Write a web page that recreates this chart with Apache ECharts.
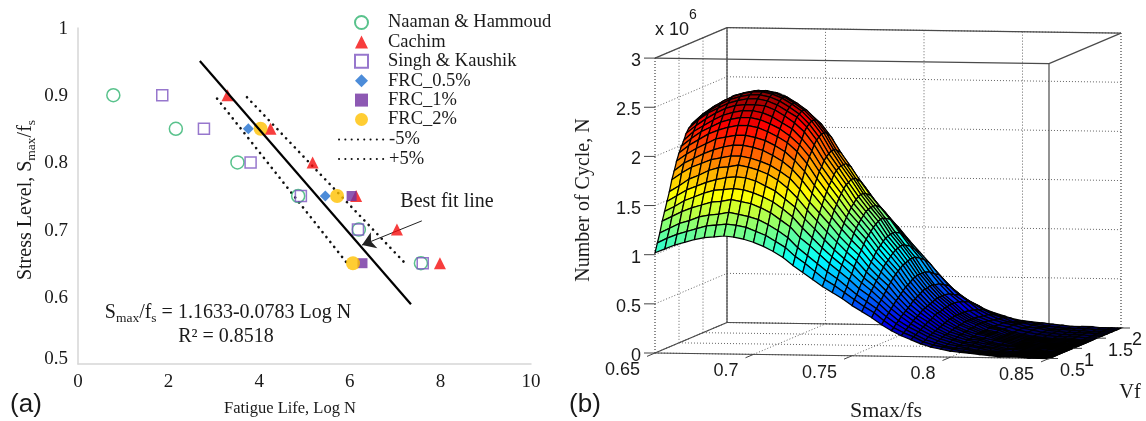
<!DOCTYPE html>
<html>
<head>
<meta charset="utf-8">
<style>
html, body { margin: 0; padding: 0; background: #fff; }
#main { width: 1146px; height: 421px; }
</style>
<script src="https://cdn.jsdelivr.net/npm/echarts@6/dist/echarts.min.js"></script>
</head>
<body>
<div id="main"></div>
<script>
// panel (a) points: [Log N, Smax/fs]
var naaman = [[0.78, 0.9], [2.16, 0.85], [3.52, 0.8], [4.86, 0.75], [6.2, 0.7], [7.57, 0.65]];
var cachim = [[3.3, 0.9], [4.25, 0.85], [5.18, 0.8], [6.14, 0.75], [7.04, 0.7], [7.99, 0.65]];
var singh = [[1.86, 0.9], [2.78, 0.85], [3.81, 0.8], [4.92, 0.75], [6.18, 0.7], [7.61, 0.65]];
var frc05 = [[3.76, 0.85], [5.46, 0.75]];
var frc1 = [[6.04, 0.75], [6.28, 0.65]];
var frc2 = [[4.03, 0.85], [5.72, 0.75], [6.07, 0.65]];
var bestFit = [[2.69, 0.951], [7.35, 0.589]];
var minus5 = [[3.07, 0.895], [5.94, 0.65]];
var plus5 = [[3.73, 0.897], [7.22, 0.65]];
var arrowLine = [[7.59, 0.713], [6.27, 0.677]];
var markerNames = ['Naaman & Hammoud', 'Cachim', 'Singh & Kaushik', 'FRC_0.5%', 'FRC_1%', 'FRC_2%'];
var bandNames = ['-5%', '+5%'];

// panel (b) axes
var smaxTicks = [0.65, 0.7, 0.75, 0.8, 0.85];
var vfTicks = [0.5, 1, 1.5, 2];
var nTicks = [0, 0.5, 1, 1.5, 2, 2.5, 3];

// panel (b) surface: one row per Vf, one column per Smax, N in millions
var smaxGrid = [0.65, 0.655, 0.66, 0.665, 0.67, 0.675, 0.68, 0.685, 0.69, 0.695, 0.7, 0.705, 0.71, 0.715, 0.72, 0.725, 0.73, 0.735, 0.74, 0.745, 0.75, 0.755, 0.76, 0.765, 0.77, 0.775, 0.78, 0.785, 0.79, 0.795, 0.8, 0.805, 0.81, 0.815, 0.82, 0.825, 0.83, 0.835, 0.84, 0.845, 0.85];
var vfGrid = [0.5, 0.55, 0.6, 0.65, 0.7, 0.75, 0.8, 0.85, 0.9, 0.95, 1, 1.05, 1.1, 1.15, 1.2, 1.25, 1.3, 1.35, 1.4, 1.5, 1.6, 1.7, 1.8, 1.9, 2];
var surfaceN = [
	[1.02,1.06,1.10,1.13,1.16,1.18,1.19,1.20,1.19,1.17,1.14,1.10,1.05,.99,.91,.84,.77,.70,.64,.58,.51,.45,.39,.32,.26,.21,.17,.13,.10,.08,.06,.05,.04,.03,.02,.01,.01,.01,0,0,0],
	[1.11,1.16,1.20,1.23,1.26,1.29,1.30,1.31,1.30,1.28,1.24,1.20,1.14,1.08,.99,.92,.84,.76,.70,.63,.56,.49,.43,.35,.28,.23,.19,.14,.11,.09,.07,.05,.04,.03,.02,.01,.01,.01,0,0,0],
	[1.20,1.25,1.30,1.33,1.37,1.39,1.40,1.42,1.40,1.38,1.35,1.30,1.24,1.17,1.07,.99,.91,.83,.76,.68,.60,.53,.46,.38,.31,.25,.20,.15,.12,.09,.07,.06,.04,.03,.02,.01,.01,.01,0,0,0],
	[1.31,1.36,1.41,1.45,1.48,1.51,1.52,1.54,1.52,1.50,1.46,1.41,1.34,1.27,1.16,1.08,.99,.90,.82,.74,.65,.58,.50,.41,.33,.27,.22,.17,.13,.10,.08,.06,.04,.03,.02,.01,.01,.01,0,0,0],
	[1.40,1.45,1.51,1.55,1.59,1.62,1.63,1.64,1.63,1.60,1.56,1.51,1.44,1.36,1.25,1.15,1.05,.96,.88,.79,.70,.62,.53,.44,.36,.29,.23,.18,.14,.11,.08,.07,.05,.03,.02,.01,.01,.01,0,0,0],
	[1.49,1.55,1.61,1.65,1.69,1.72,1.74,1.75,1.74,1.71,1.66,1.61,1.53,1.45,1.33,1.23,1.12,1.02,.93,.85,.74,.66,.57,.47,.38,.31,.25,.19,.15,.12,.09,.07,.05,.04,.02,.01,.01,.01,0,0,0],
	[1.58,1.64,1.71,1.75,1.80,1.83,1.84,1.86,1.84,1.81,1.77,1.71,1.63,1.53,1.41,1.30,1.19,1.09,.99,.90,.79,.70,.60,.50,.40,.33,.26,.20,.16,.12,.09,.08,.05,.04,.02,.02,.01,.01,0,0,0],
	[1.69,1.76,1.82,1.86,1.90,1.92,1.94,1.94,1.92,1.89,1.85,1.79,1.72,1.61,1.48,1.37,1.26,1.14,1.04,.95,.83,.73,.64,.52,.42,.34,.28,.21,.16,.13,.10,.08,.06,.04,.02,.02,.01,.01,0,0,0],
	[1.77,1.85,1.90,1.95,1.99,2.02,2.04,2.04,2.02,1.99,1.94,1.88,1.80,1.69,1.56,1.44,1.32,1.20,1.09,.99,.87,.77,.67,.55,.44,.36,.29,.22,.17,.14,.10,.09,.06,.04,.03,.02,.01,.01,.01,0,0],
	[1.86,1.93,1.99,2.04,2.09,2.11,2.13,2.13,2.11,2.08,2.03,1.97,1.88,1.77,1.63,1.50,1.38,1.25,1.15,1.04,.91,.81,.70,.57,.47,.38,.30,.23,.18,.14,.11,.09,.06,.04,.03,.02,.01,.01,.01,0,0],
	[1.93,2.01,2.07,2.13,2.17,2.20,2.22,2.22,2.20,2.16,2.11,2.05,1.96,1.84,1.69,1.56,1.43,1.30,1.19,1.08,.95,.84,.73,.60,.48,.39,.32,.24,.19,.15,.11,.09,.07,.05,.03,.02,.01,.01,.01,0,0],
	[1.99,2.07,2.14,2.19,2.24,2.27,2.29,2.29,2.27,2.23,2.18,2.11,2.02,1.90,1.75,1.61,1.48,1.34,1.23,1.11,.98,.86,.75,.61,.50,.40,.33,.25,.19,.15,.12,.10,.07,.05,.03,.02,.01,.01,.01,0,0],
	[2.04,2.13,2.19,2.25,2.30,2.33,2.35,2.35,2.33,2.29,2.23,2.17,2.07,1.95,1.79,1.65,1.52,1.38,1.26,1.14,1.00,.89,.77,.63,.51,.41,.33,.26,.20,.16,.12,.10,.07,.05,.03,.02,.01,.01,.01,0,0],
	[2.10,2.18,2.25,2.31,2.36,2.39,2.40,2.40,2.39,2.35,2.29,2.22,2.13,2.00,1.84,1.70,1.56,1.41,1.29,1.17,1.03,.91,.79,.65,.53,.42,.34,.26,.20,.16,.12,.10,.07,.05,.03,.02,.01,.01,.01,0,0],
	[2.14,2.23,2.30,2.35,2.40,2.43,2.45,2.45,2.43,2.39,2.33,2.27,2.17,2.04,1.87,1.73,1.59,1.44,1.32,1.19,1.05,.93,.80,.66,.54,.43,.35,.27,.21,.16,.12,.10,.07,.05,.03,.02,.01,.01,.01,0,0],
	[2.16,2.25,2.32,2.38,2.43,2.46,2.48,2.48,2.46,2.42,2.36,2.29,2.19,2.06,1.89,1.75,1.60,1.46,1.33,1.21,1.06,.94,.81,.67,.54,.44,.35,.27,.21,.17,.12,.10,.07,.05,.03,.02,.01,.01,.01,0,0],
	[2.18,2.27,2.34,2.40,2.45,2.48,2.50,2.50,2.48,2.44,2.38,2.31,2.21,2.08,1.91,1.76,1.62,1.47,1.34,1.22,1.07,.95,.82,.67,.55,.44,.36,.27,.21,.17,.13,.11,.07,.05,.03,.02,.01,.01,.01,0,0],
	[2.18,2.27,2.34,2.40,2.45,2.48,2.50,2.50,2.48,2.44,2.38,2.31,2.21,2.08,1.91,1.76,1.62,1.47,1.34,1.22,1.07,.95,.82,.67,.55,.44,.36,.27,.21,.17,.13,.11,.07,.05,.03,.02,.01,.01,.01,0,0],
	[2.17,2.26,2.33,2.39,2.44,2.47,2.49,2.49,2.47,2.43,2.37,2.30,2.20,2.07,1.90,1.76,1.61,1.46,1.34,1.21,1.07,.94,.82,.67,.54,.44,.36,.27,.21,.17,.13,.10,.07,.05,.03,.02,.01,.01,.01,0,0],
	[2.11,2.20,2.26,2.32,2.37,2.40,2.42,2.42,2.40,2.36,2.30,2.23,2.14,2.01,1.85,1.71,1.56,1.42,1.30,1.18,1.04,.91,.79,.65,.53,.43,.35,.26,.20,.16,.12,.10,.07,.05,.03,.02,.01,.01,.01,0,0],
	[1.99,2.07,2.14,2.19,2.24,2.27,2.29,2.29,2.27,2.23,2.18,2.11,2.02,1.90,1.75,1.61,1.48,1.34,1.23,1.11,.98,.86,.75,.61,.50,.40,.33,.25,.19,.15,.12,.10,.07,.05,.03,.02,.01,.01,.01,0,0],
	[1.84,1.91,1.98,2.03,2.09,2.12,2.14,2.16,2.14,2.11,2.05,1.98,1.89,1.78,1.64,1.51,1.39,1.26,1.15,1.04,.92,.81,.70,.58,.47,.38,.31,.23,.18,.14,.11,.09,.06,.05,.03,.02,.01,.01,.01,0,0],
	[1.61,1.67,1.74,1.79,1.83,1.86,1.88,1.90,1.88,1.85,1.80,1.74,1.66,1.56,1.44,1.33,1.22,1.11,1.01,.92,.81,.71,.62,.51,.41,.33,.27,.21,.16,.13,.09,.08,.06,.04,.02,.02,.01,.01,0,0,0],
	[1.36,1.41,1.46,1.50,1.54,1.57,1.58,1.60,1.58,1.56,1.52,1.46,1.40,1.32,1.21,1.12,1.02,.93,.85,.77,.68,.60,.52,.43,.35,.28,.23,.17,.13,.11,.08,.07,.05,.03,.02,.01,.01,.01,0,0,0],
	[1.07,1.11,1.16,1.19,1.22,1.24,1.25,1.26,1.25,1.23,1.20,1.16,1.10,1.04,.96,.88,.81,.74,.67,.61,.54,.47,.41,.34,.27,.22,.18,.14,.11,.08,.06,.05,.04,.03,.02,.01,.01,.01,0,0,0]
];
var jetColors = ['#00004a', '#0000e8', '#007fff', '#00ffff', '#7fff7f', '#ffff00', '#ff7f00', '#ff0000', '#7f0000'];

var serif = '"Liberation Serif"';
var sans = '"Liberation Sans"';
var textColor = '#1a1a1a';
var nColorMax = 2.52;

// oblique view of panel (b): each axis adds a fixed shift on the plane
var smaxPx = 1970, nPx = 98.3;
function project(s, v, n) {
	return [s + (v - 0.5) * 48 / smaxPx, n - (s - 0.65) * 27.5 / nPx + (v - 0.5) * 20.33 / nPx];
}

var s0 = smaxTicks[0], s1 = smaxTicks[4], v0 = vfTicks[0], v1 = vfTicks[3], n0 = nTicks[0], n1 = nTicks[6];

var boxLines = [
	[s0, v0, n1, s1, v0, n1], [s1, v0, n1, s1, v1, n1], [s1, v1, n1, s0, v1, n1], [s0, v1, n1, s0, v0, n1],
	[s0, v1, n0, s0, v1, n1], [s1, v0, n0, s1, v0, n1],
	[s0, v0, n0, s1, v0, n0], [s0, v1, n0, s1, v1, n0], [s0, v0, n0, s0, v1, n0], [s1, v0, n0, s1, v1, n0]
];
var gridLines = [[s0, v0, n0, s0, v0, n1], [s1, v1, n0, s1, v1, n1]];
nTicks.forEach(function(n) {
	gridLines.push([s0, v0, n, s0, v1, n], [s0, v1, n, s1, v1, n]);
});
smaxTicks.forEach(function(s) {
	gridLines.push([s, v1, n0, s, v1, n1], [s, v0, n0, s, v1, n0]);
});
vfTicks.forEach(function(v) {
	gridLines.push([s0, v, n0, s0, v, n1], [s0, v, n0, s1, v, n0]);
});

function lineSeries(rows, style, z) {
	return {
		type: 'custom',
		xAxisIndex: 1,
		yAxisIndex: 1,
		silent: true,
		z: z,
		data: rows,
		renderItem: function(params, api) {
			var r = rows[params.dataIndex];
			var a = api.coord(project(r[0], r[1], r[2]));
			var b = api.coord(project(r[3], r[4], r[5]));
			return { type: 'line', shape: { x1: a[0], y1: a[1], x2: b[0], y2: b[1] }, style: style };
		}
	};
}

// tick marks and tick labels of panel (b), one item per tick
var tickItems = [];
nTicks.forEach(function(n) { tickItems.push({ at: [s0, v0, n], text: String(n), mark: [-11, 0], off: [-14, 3], align: 'right' }); });
smaxTicks.forEach(function(s) { tickItems.push({ at: [s, v0, n0], text: String(s), mark: [-8, 3.4], off: [-15, 17], align: 'right' }); });
vfTicks.forEach(function(v) { tickItems.push({ at: [s1, v, n0], text: String(v), mark: [9, 0], off: [11, 12.5], align: 'left' }); });

var surfaceCells = [];
for (var j = vfGrid.length - 2; j >= 0; j--) {
	for (var i = 0; i < smaxGrid.length - 1; i++) {
		surfaceCells.push([i, j]);
	}
}

function cellCorner(api, i, j) {
	return api.coord(project(smaxGrid[i], vfGrid[j], surfaceN[j][i]));
}

var subRich = {
	b: { fontFamily: serif, fontSize: 20, lineHeight: 25, fill: textColor, color: textColor },
	sub: { fontFamily: serif, fontSize: 13.5, lineHeight: 13, verticalAlign: 'bottom', fill: textColor, color: textColor }
};

function label(x, y, text, size, family, extra) {
	var style = { text: text, fontFamily: family, fontSize: size, fill: textColor, align: 'center', verticalAlign: 'middle' };
	var el = { type: 'text', x: x, y: y, silent: true, style: style };
	if (extra) {
		if (extra.rotation) el.rotation = extra.rotation;
		if (extra.rich) style.rich = extra.rich;
	}
	return el;
}

var clearFill = 'rgba(0,0,0,0)';
var dotLine = { color: '#111', width: 2.6, type: [0.1, 6.2], cap: 'round' };

var option = {
	animation: false,
	backgroundColor: '#fff',
	legend: [{
		left: 354,
		top: 13,
		padding: 0,
		orient: 'vertical',
		selectedMode: false,
		itemWidth: 13,
		itemHeight: 13,
		itemGap: 0.4,
		data: markerNames,
		textStyle: { fontFamily: serif, fontSize: 18.5, color: textColor, lineHeight: 19, padding: [0, 0, 0, 15] }
	}, {
		left: 338,
		top: 130,
		padding: 0,
		orient: 'vertical',
		selectedMode: false,
		itemWidth: 45,
		itemHeight: 12,
		itemGap: 0.4,
		data: bandNames,
		textStyle: { fontFamily: serif, fontSize: 18.5, color: textColor, lineHeight: 19 }
	}],
	grid: [
		{ left: 78, top: 28, width: 453, height: 336 },
		{ left: 650, top: 20, width: 480, height: 345 }
	],
	xAxis: [{
		type: 'value', min: 0, max: 10, interval: 2,
		splitLine: { show: false }, axisTick: { show: false },
		axisLine: { lineStyle: { color: '#d6d6d6', width: 1.5 } },
		axisLabel: { fontFamily: serif, fontSize: 19, color: textColor, margin: 9 }
	}, {
		type: 'value', gridIndex: 1, show: false,
		min: 0.65 - 5 / smaxPx, max: 0.65 + 475 / smaxPx
	}],
	yAxis: [{
		type: 'value', min: 0.5, max: 1, interval: 0.1,
		splitLine: { show: false }, axisTick: { show: false },
		axisLine: { lineStyle: { color: '#d6d6d6', width: 1.5 } },
		axisLabel: {
			fontFamily: serif, fontSize: 19, color: textColor, margin: 10, padding: [2, 0, 0, 0],
			formatter: function(value) { return value === 0.5 ? '{low|0.5}' : String(value); },
			rich: { low: { fontFamily: serif, fontSize: 19, color: textColor, padding: [0, 0, 12, 0] } }
		}
	}, {
		type: 'value', gridIndex: 1, show: false,
		min: -12 / nPx, max: 333 / nPx
	}],
	series: [
		{ name: 'Naaman & Hammoud', type: 'scatter', data: naaman, zlevel: 1, symbol: 'circle', symbolSize: 13, itemStyle: { color: clearFill, borderColor: '#2fb36f', borderWidth: 1.5 } },
		{ name: 'Cachim', type: 'scatter', data: cachim, zlevel: 1, symbol: 'triangle', symbolSize: 12, itemStyle: { color: '#f50d0d' } },
		{ name: 'Singh & Kaushik', type: 'scatter', data: singh, zlevel: 1, symbol: 'rect', symbolSize: 11, itemStyle: { color: clearFill, borderColor: '#7d55c0', borderWidth: 1.5 } },
		{ name: 'FRC_0.5%', type: 'scatter', data: frc05, zlevel: 1, symbol: 'diamond', symbolSize: 11, itemStyle: { color: '#1f6fd0' } },
		{ name: 'FRC_1%', type: 'scatter', data: frc1, zlevel: 1, symbol: 'rect', symbolSize: 10, itemStyle: { color: '#7030a0' } },
		{ name: 'FRC_2%', type: 'scatter', data: frc2, zlevel: 1, symbol: 'circle', symbolSize: 14, itemStyle: { color: '#ffc000' } },
		{ name: '-5%', type: 'line', data: minus5, symbol: 'none', itemStyle: { color: clearFill }, lineStyle: dotLine },
		{ name: '+5%', type: 'line', data: plus5, symbol: 'none', itemStyle: { color: clearFill }, lineStyle: dotLine },
		{
			name: 'Best fit', type: 'line', data: bestFit, symbol: 'none', lineStyle: { color: '#000', width: 2.2 }, zlevel: 2,
			markLine: {
				silent: true, animation: false, symbol: ['none', 'arrow'], symbolSize: 13,
				lineStyle: { color: '#222', type: 'solid', width: 1 }, label: { show: false },
				data: [[{ coord: arrowLine[0] }, { coord: arrowLine[1] }]]
			}
		},
		lineSeries(gridLines, { stroke: '#666', lineWidth: 1, lineDash: [1, 2] }, 1),
		lineSeries(boxLines, { stroke: '#4a4a4a', lineWidth: 1.2 }, 2),
		{
			type: 'custom',
			xAxisIndex: 1,
			yAxisIndex: 1,
			silent: true,
			z: 3,
			data: surfaceCells,
			renderItem: function(params, api) {
				var c = surfaceCells[params.dataIndex], i = c[0], j = c[1];
				var mean = (surfaceN[j][i] + surfaceN[j][i + 1] + surfaceN[j + 1][i] + surfaceN[j + 1][i + 1]) / 4;
				return {
					type: 'polygon',
					shape: { points: [cellCorner(api, i, j), cellCorner(api, i + 1, j), cellCorner(api, i + 1, j + 1), cellCorner(api, i, j + 1)] },
					style: { fill: echarts.color.lerp(Math.min(mean / nColorMax, 1), jetColors), stroke: '#000', lineWidth: 1.25 }
				};
			}
		},
		{
			type: 'custom',
			xAxisIndex: 1,
			yAxisIndex: 1,
			silent: true,
			z: 4,
			data: tickItems.map(function(t, k) { return [k, k]; }),
			renderItem: function(params, api) {
				var t = tickItems[params.dataIndex];
				var p = api.coord(project(t.at[0], t.at[1], t.at[2]));
				return {
					type: 'group',
					children: [{
						type: 'line',
						shape: { x1: p[0], y1: p[1], x2: p[0] + t.mark[0], y2: p[1] + t.mark[1] },
						style: { stroke: '#444', lineWidth: 1 }
					}, {
						type: 'text',
						style: { text: t.text, x: p[0] + t.off[0], y: p[1] + t.off[1], fontFamily: sans, fontSize: 18, fill: textColor, align: t.align, verticalAlign: 'middle' }
					}]
				};
			}
		}
	],
	graphic: [
		label(26, 200, '{b|Stress Level, S}{sub|max}{b|/f}{sub|s}', 20, serif, { rotation: Math.PI / 2, rich: subRich }),
		label(290, 409, 'Fatigue Life, Log N', 16.5, serif),
		label(447, 202, 'Best fit line', 20, serif),
		label(228, 313, '{b|S}{sub|max}{b|/f}{sub|s}{b| = 1.1633-0.0783 Log N}', 20, serif, { rich: subRich }),
		label(226, 337, 'R² = 0.8518', 20, serif),
		label(26, 405, '(a)', 26, sans),
		label(585, 405, '(b)', 26, sans),
		label(584, 200, 'Number of Cycle, N', 20, serif, { rotation: Math.PI / 2 }),
		label(886, 411, 'Smax/fs', 22, serif),
		label(1130, 393, 'Vf', 20.5, serif),
		label(672, 30, 'x 10', 18, sans),
		label(693, 15, '6', 14, sans)
	]
};

var chart = echarts.init(document.getElementById('main'));
chart.setOption(option);
</script>
</body>
</html>
